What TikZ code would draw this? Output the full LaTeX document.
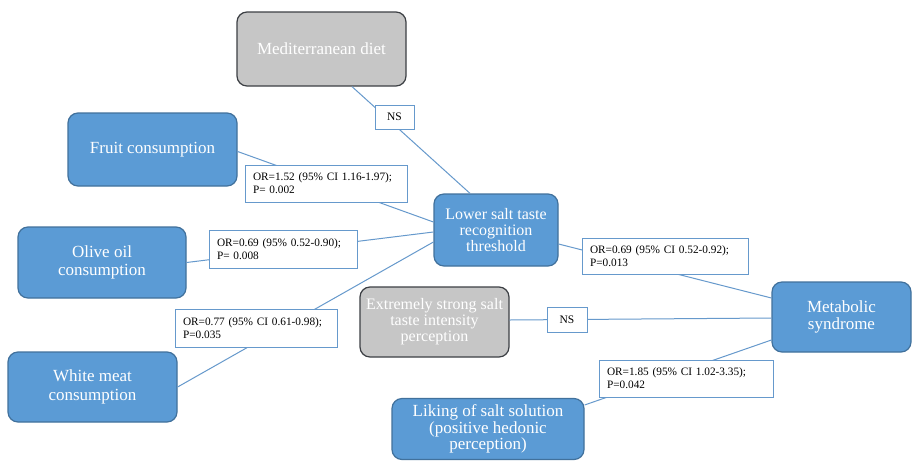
\documentclass[tikz,border=0pt]{standalone}
\usepackage{fontspec}
\setmainfont{Liberation Serif}
\definecolor{bfill}{HTML}{5B9BD5}
\definecolor{bdraw}{HTML}{41719C}
\definecolor{gfill}{HTML}{C6C6C6}
\definecolor{gdraw}{HTML}{3C3F44}
\definecolor{lineblue}{HTML}{6699CC}
\begin{document}
\begin{tikzpicture}[x=1pt,y=-1pt,
  boxbase/.style={rounded corners=10pt, line width=1.2pt, align=center, text=white,
    font=\fontsize{17}{16.5}\selectfont, inner sep=0pt},
  smallfont/.style={font=\fontsize{16}{16}\selectfont},
  bluebox/.style={boxbase, fill=bfill, draw=bdraw},
  graybox/.style={boxbase, fill=gfill, draw=gdraw},
  lab/.style={draw=lineblue, fill=white, line width=0.9pt, align=left,
    font=\fontsize{11.3}{13}\selectfont, inner xsep=8pt, inner ysep=0pt},
  nsbox/.style={draw=lineblue, fill=white, line width=0.9pt,
    font=\fontsize{11.5}{13}\selectfont, inner sep=0pt},
  conn/.style={draw=lineblue, line width=1pt}]
\useasboundingbox[fill=white] (0,0) rectangle (912,461);

% main boxes
\node[graybox, minimum width=169pt, minimum height=74pt] (med) at (321.5,49) {Mediterranean diet};
\node[bluebox, minimum width=169pt, minimum height=73pt] (fruit) at (152.5,149.5) {Fruit consumption};
\node[bluebox, smallfont, minimum width=124pt, minimum height=72pt] (lower) at (496,230) {Lower salt taste\\recognition\\threshold};
\node[bluebox, minimum width=168pt, minimum height=71pt] (olive) at (102,262.5) {Olive oil\\[2pt]consumption};
\node[bluebox, minimum width=139pt, minimum height=70pt] (met) at (841.5,317) {Metabolic\\syndrome};
\node[graybox, smallfont, minimum width=149pt, minimum height=70pt] (ext) at (434.5,322) {Extremely strong salt\\taste intensity\\perception};
\node[bluebox, minimum width=169pt, minimum height=70pt] (white) at (92.5,387) {White meat\\[2pt]consumption};
\node[bluebox, minimum width=192pt, minimum height=61pt] (liking) at (488,429) {Liking of salt solution\\(positive hedonic\\perception)};

% connectors
\draw[conn] ([xshift=30.5pt]med.south) -- ([xshift=-26pt]lower.north);
\draw[conn] ([yshift=-2pt]fruit.east) -- ([yshift=8pt]lower.west);
\draw[conn] (olive.east) -- ([yshift=-2pt]lower.west);
\draw[conn] (white.east) -- ([yshift=-12pt]lower.west);
\draw[conn] ([yshift=-14pt]lower.east) -- ([yshift=19pt]met.west);
\draw[conn] ([yshift=2pt]ext.east) -- ([yshift=-1pt]met.west);
\draw[conn] ([yshift=24pt]liking.east) -- ([yshift=-23pt]met.west);

% labels
\node[nsbox, minimum width=39pt, minimum height=24pt] (ns1) at (394.5,117) {NS};
\node[lab, text width=146pt, minimum height=37pt] (l1) at (326,183.5) {OR=1.52 (95\% CI 1.16-1.97);\\P= 0.002};
\node[lab, text width=132pt, minimum height=38pt] (l2) at (283,249) {OR=0.69 (95\% 0.52-0.90);\\P= 0.008};
\node[lab, text width=146pt, minimum height=38pt] (l3) at (256,328) {OR=0.77 (95\% CI 0.61-0.98);\\P=0.035};
\node[lab, text width=150pt, minimum height=36pt] (l4) at (665,256) {OR=0.69 (95\% CI 0.52-0.92);\\P=0.013};
\node[nsbox, minimum width=40pt, minimum height=25pt] (ns2) at (567,319.5) {NS};
\node[lab, text width=158pt, minimum height=37pt] (l5) at (686,378.5) {OR=1.85 (95\% CI 1.02-3.35);\\P=0.042};
\end{tikzpicture}
\end{document}
